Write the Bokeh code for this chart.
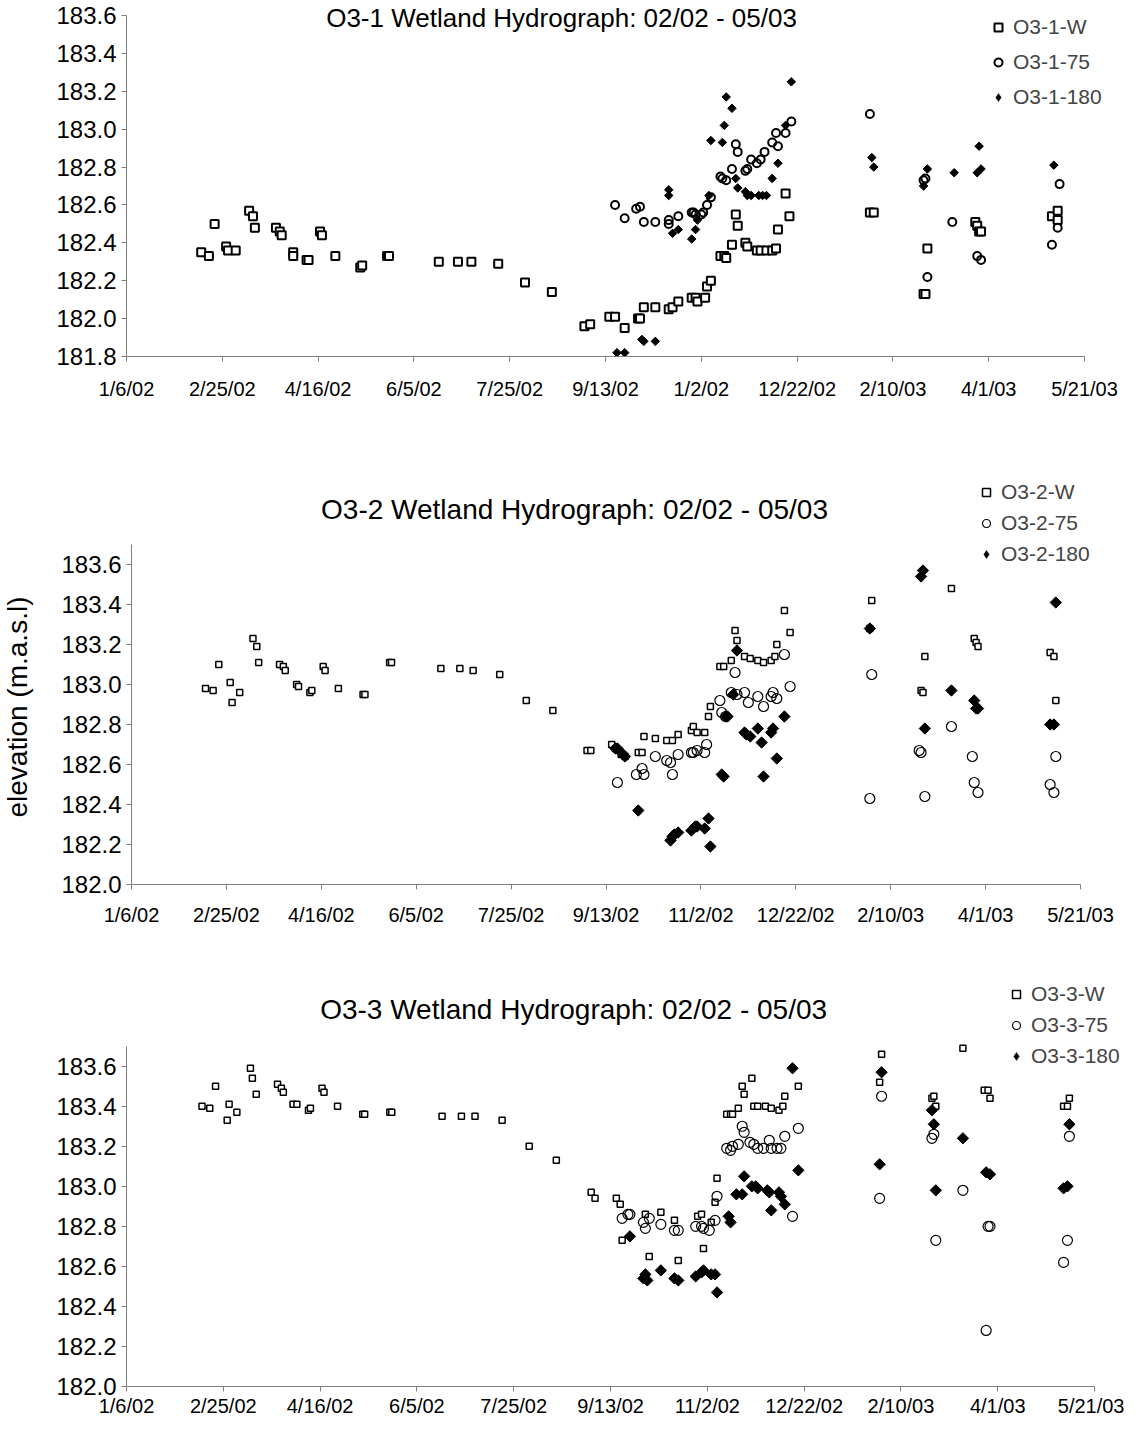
import math
from bokeh.plotting import figure
from bokeh.layouts import column, row
from bokeh.models import (Range1d, FixedTicker, PrintfTickFormatter, Legend,
                          LegendItem, Label)
from bokeh.embed import file_html
from bokeh.resources import INLINE

FONT = "Liberation Sans"

# x values are days since 1/6/02
x_ticks = [0, 50, 100, 150, 200, 250, 300, 350, 400, 450, 500]
x_tick_labels = ["1/6/02", "2/25/02", "4/16/02", "6/5/02", "7/25/02", "9/13/02",
                 "11/2/02", "12/22/02", "2/10/03", "4/1/03", "5/21/03"]
p1_x_tick_labels = ["1/6/02", "2/25/02", "4/16/02", "6/5/02", "7/25/02", "9/13/02",
                    "1/2/02", "12/22/02", "2/10/03", "4/1/03", "5/21/03"]
p1_y_ticks = [181.8, 182.0, 182.2, 182.4, 182.6, 182.8, 183.0, 183.2, 183.4, 183.6]
p23_y_ticks = [182.0, 182.2, 182.4, 182.6, 182.8, 183.0, 183.2, 183.4, 183.6]

titles = ["O3-1 Wetland Hydrograph: 02/02 - 05/03",
          "O3-2 Wetland Hydrograph: 02/02 - 05/03",
          "O3-3 Wetland Hydrograph: 02/02 - 05/03"]
series_names = [["O3-1-W", "O3-1-75", "O3-1-180"],
                ["O3-2-W", "O3-2-75", "O3-2-180"],
                ["O3-3-W", "O3-3-75", "O3-3-180"]]
y_axis_title = "elevation (m.a.s.l)"

# ---------------- O3-1 ----------------
p1_w_day = [39, 43, 46, 52, 53, 57, 64, 66, 67, 78, 80, 81, 87, 87, 94, 95, 101, 102, 109,
            122, 123, 136, 137, 163, 173, 180, 194, 208, 222, 239, 242, 252, 255, 260,
            267, 268, 270, 276, 283, 285, 288, 295, 297, 298, 302, 303, 305, 310, 312,
            313, 316, 318, 319, 323, 324, 329, 331, 334, 337, 339, 340, 344, 346, 388,
            390, 416, 417, 418, 443, 444, 445, 446, 483, 486, 486]
p1_w_val = [182.35, 182.33, 182.50, 182.38, 182.36, 182.36, 182.57, 182.54, 182.48, 182.48,
            182.46, 182.44, 182.35, 182.33, 182.31, 182.31, 182.46, 182.44, 182.33, 182.27,
            182.28, 182.33, 182.33, 182.30, 182.30, 182.30, 182.29, 182.19, 182.14, 181.96,
            181.97, 182.01, 182.01, 181.95, 182.00, 182.00, 182.06, 182.06, 182.05, 182.06,
            182.09, 182.11, 182.11, 182.09, 182.11, 182.17, 182.20, 182.33, 182.33, 182.32,
            182.39, 182.55, 182.49, 182.40, 182.38, 182.36, 182.36, 182.36, 182.36, 182.37,
            182.47, 182.66, 182.54, 182.56, 182.56, 182.13, 182.13, 182.37, 182.51, 182.49,
            182.46, 182.46, 182.54, 182.57, 182.52]
p1_75_day = [255, 260, 266, 268, 270, 276, 283, 283, 288, 295, 296, 297, 300, 301, 303, 305,
             310, 311, 313, 316, 318, 319, 323, 324, 326, 329, 331, 333, 337, 339, 340, 344,
             347, 388, 416, 417, 418, 431, 444, 446, 483, 486, 487]
p1_75_val = [182.60, 182.53, 182.58, 182.59, 182.51, 182.51, 182.52, 182.50, 182.54, 182.56,
             182.56, 182.55, 182.55, 182.56, 182.60, 182.64, 182.75, 182.74, 182.73, 182.79,
             182.92, 182.88, 182.78, 182.79, 182.84, 182.82, 182.84, 182.88, 182.93, 182.98,
             182.91, 182.98, 183.04, 183.08, 182.73, 182.74, 182.22, 182.51, 182.33, 182.31,
             182.39, 182.48, 182.71]
p1_180_day = [256, 260, 269, 270, 276, 283, 283, 285, 288, 295, 297, 298, 304, 305, 311, 312,
              313, 316, 318, 319, 323, 324, 326, 330, 332, 334, 337, 340, 344, 347, 389, 390,
              416, 418, 432, 444, 445, 446, 484]
p1_180_val = [181.82, 181.82, 181.89, 181.88, 181.88, 182.65, 182.68, 182.45, 182.47, 182.42,
              182.47, 182.52, 182.65, 182.94, 182.93, 183.02, 183.17, 183.11, 182.74, 182.69,
              182.67, 182.65, 182.65, 182.65, 182.65, 182.65, 182.74, 182.82, 183.02, 183.25,
              182.85, 182.80, 182.70, 182.79, 182.77, 182.77, 182.91, 182.79, 182.81]

# ---------------- O3-2 ----------------
p2_w_day = [39, 43, 46, 52, 53, 57, 64, 66, 67, 78, 80, 81, 87, 88, 94, 95, 101, 102, 109,
            122, 123, 136, 137, 163, 173, 180, 194, 208, 222, 240, 242, 253, 255, 258, 260,
            267, 269, 270, 276, 282, 285, 288, 295, 296, 298, 302, 304, 305, 310, 312, 316,
            318, 319, 323, 326, 330, 333, 337, 339, 340, 344, 347, 389, 390, 416, 417, 418,
            432, 444, 445, 446, 484, 486, 487]
p2_w_val = [182.98, 182.97, 183.10, 183.01, 182.91, 182.96, 183.23, 183.19, 183.11, 183.10,
            183.09, 183.07, 183.00, 182.99, 182.96, 182.97, 183.09, 183.07, 182.98, 182.95,
            182.95, 183.11, 183.11, 183.08, 183.08, 183.07, 183.05, 182.92, 182.87, 182.67,
            182.67, 182.70, 182.68, 182.65, 182.64, 182.66, 182.66, 182.74, 182.73, 182.72,
            182.72, 182.75, 182.77, 182.79, 182.76, 182.76, 182.84, 182.89, 183.09, 183.09,
            183.12, 183.27, 183.22, 183.14, 183.13, 183.12, 183.11, 183.12, 183.14, 183.20,
            183.37, 183.26, 183.28, 183.42, 182.97, 182.96, 183.14, 183.48, 183.23, 183.21,
            183.19, 183.16, 183.14, 182.92]
p2_75_day = [256, 266, 269, 270, 276, 282, 284, 285, 288, 295, 296, 298, 302, 303, 310, 311,
             313, 316, 318, 319, 323, 325, 330, 333, 337, 338, 340, 344, 347, 389, 390, 415,
             416, 418, 432, 443, 444, 446, 484, 486, 487]
p2_75_val = [182.51, 182.55, 182.58, 182.55, 182.64, 182.62, 182.61, 182.55, 182.65, 182.66,
             182.66, 182.67, 182.66, 182.70, 182.92, 182.86, 182.84, 182.96, 183.06, 182.95,
             182.96, 182.91, 182.94, 182.89, 182.94, 182.96, 182.93, 183.15, 182.99, 182.43,
             183.05, 182.67, 182.66, 182.44, 182.79, 182.64, 182.51, 182.46, 182.50, 182.46,
             182.64]
p2_180_day = [255, 256, 258, 260, 267, 284, 285, 286, 288, 295, 297, 298, 302, 304, 305, 311,
              312, 313, 314, 317, 319, 323, 324, 326, 330, 332, 333, 337, 338, 340, 344, 389,
              416, 417, 418, 432, 444, 445, 446, 484, 486, 487]
p2_180_val = [182.68, 182.68, 182.66, 182.64, 182.37, 182.22, 182.24, 182.25, 182.26, 182.27,
              182.29, 182.29, 182.28, 182.33, 182.19, 182.55, 182.54, 182.84, 182.84, 182.95,
              183.17, 182.76, 182.75, 182.74, 182.78, 182.71, 182.54, 182.76, 182.78, 182.63,
              182.84, 183.28, 183.54, 183.57, 182.78, 182.97, 182.92, 182.88, 182.88, 182.80,
              182.80, 183.41]

# ---------------- O3-3 ----------------
p3_w_day = [39, 43, 46, 52, 53, 57, 64, 65, 67, 78, 80, 81, 86, 88, 94, 95, 101, 102, 109,
            122, 123, 136, 137, 163, 173, 180, 194, 208, 222, 240, 242, 253, 255, 256, 268,
            270, 276, 283, 285, 295, 297, 298, 302, 304, 305, 310, 312, 313, 316, 318, 319,
            323, 324, 326, 330, 333, 337, 339, 340, 347, 389, 390, 416, 417, 418, 432, 443,
            445, 446, 484, 486, 487]
p3_w_val = [183.40, 183.39, 183.50, 183.33, 183.41, 183.37, 183.59, 183.54, 183.46, 183.51,
            183.49, 183.47, 183.41, 183.41, 183.38, 183.39, 183.49, 183.47, 183.40, 183.36,
            183.36, 183.37, 183.37, 183.35, 183.35, 183.35, 183.33, 183.20, 183.13, 182.97,
            182.94, 182.94, 182.91, 182.73, 182.86, 182.65, 182.87, 182.83, 182.63, 182.85,
            182.86, 182.69, 182.82, 182.92, 183.04, 183.36, 183.36, 183.36, 183.39, 183.50,
            183.46, 183.54, 183.40, 183.40, 183.40, 183.39, 183.38, 183.40, 183.45, 183.50,
            183.52, 183.66, 183.44, 183.45, 183.40, 183.69, 183.48, 183.48, 183.44, 183.40,
            183.40, 183.44]
p3_75_day = [256, 259, 260, 267, 268, 270, 276, 283, 285, 294, 297, 298, 301, 304, 305, 310,
             312, 313, 316, 318, 319, 322, 324, 326, 329, 332, 333, 336, 338, 340, 344, 347,
             389, 390, 416, 417, 418, 432, 444, 445, 446, 484, 486, 487]
p3_75_val = [182.84, 182.86, 182.86, 182.82, 182.79, 182.84, 182.81, 182.78, 182.78, 182.80,
             182.80, 182.79, 182.78, 182.83, 182.95, 183.19, 183.18, 183.20, 183.21, 183.30,
             183.27, 183.22, 183.21, 183.19, 183.19, 183.23, 183.19, 183.19, 183.19, 183.25,
             182.85, 183.29, 182.94, 183.45, 183.24, 183.26, 182.73, 182.98, 182.28, 182.80,
             182.80, 182.62, 182.73, 183.25]
p3_180_day = [260, 267, 268, 269, 276, 283, 285, 294, 297, 298, 302, 304, 305, 311, 312, 315,
              318, 319, 323, 325, 326, 331, 332, 333, 337, 338, 340, 344, 347, 389, 390, 416,
              417, 418, 432, 444, 446, 484, 486, 487]
p3_180_val = [182.75, 182.54, 182.56, 182.53, 182.58, 182.54, 182.53, 182.55, 182.57, 182.58,
              182.56, 182.56, 182.47, 182.85, 182.82, 182.96, 182.96, 183.05, 183.00, 183.00,
              182.99, 182.98, 182.97, 182.88, 182.97, 182.95, 182.91, 183.59, 183.08, 183.11,
              183.57, 183.38, 183.31, 182.98, 183.24, 183.07, 183.06, 182.99, 183.00, 183.31]

PAGE_OFF = 8          # page margin
PAGE_RIGHT = 1132     # right edge of the usable page area


def make_panel(title, names, data, xlabels, yticks, y_lo, y_axis_top, geo, marks):
    # geo: page-pixel geometry of this panel
    (fig_left, fig_top, fig_bot, x0_px, x500_px, axis_px, ytop_px,
     title_px, title_size, leg_px, leg_spacing, x_standoff) = geo
    frame_right = PAGE_RIGHT
    xscale = (x500_px - x0_px) / 500.0
    yscale = (axis_px - ytop_px) / (yticks[-1] - y_lo)
    x_max = (frame_right - x0_px) / xscale
    y_max = y_lo + (axis_px - fig_top) / yscale

    p = figure(width=PAGE_RIGHT - fig_left, height=fig_bot - fig_top,
               output_backend="svg", toolbar_location=None, title=None,
               x_range=Range1d(0, x_max), y_range=Range1d(y_lo, y_max),
               min_border_top=0, min_border_bottom=fig_bot - axis_px,
               min_border_left=x0_px - fig_left, min_border_right=0)
    p.outline_line_color = None
    p.xgrid.grid_line_color = None
    p.ygrid.grid_line_color = None
    p.background_fill_color = "white"
    p.border_fill_color = "white"

    p.xaxis.ticker = FixedTicker(ticks=x_ticks)
    p.xaxis.major_label_overrides = {t: l for t, l in zip(x_ticks, xlabels)}
    p.xaxis.bounds = (x_ticks[0], x_ticks[-1])
    p.yaxis.ticker = FixedTicker(ticks=yticks)
    p.yaxis.formatter = PrintfTickFormatter(format="%.1f")
    p.yaxis.bounds = (y_lo, y_axis_top)
    for ax in (p.xaxis, p.yaxis):
        ax.axis_line_color = "#7f7f7f"
        ax.axis_line_width = 1
        ax.major_tick_line_color = "#7f7f7f"
        ax.minor_tick_line_color = None
        ax.major_tick_in = 0
        ax.major_tick_out = 5
        ax.major_label_text_font = FONT
        ax.major_label_text_color = "black"
    p.xaxis.major_label_text_font_size = "20px"
    p.xaxis.major_label_standoff = x_standoff
    p.yaxis.major_label_text_font_size = "24px"
    p.yaxis.major_label_standoff = 5

    (w_day, w_val), (m_day, m_val), (d_day, d_val) = data
    sq_size, sq_lw, ci_size, ci_lw, di_size, leg_di_size = marks
    r_w = p.scatter(w_day, w_val, marker="square", size=sq_size, fill_color="white",
                    line_color="black", line_width=sq_lw)
    r_m = p.scatter(m_day, m_val, marker="circle", size=ci_size, fill_color=None,
                    line_color="black", line_width=ci_lw)
    p.scatter(d_day, d_val, marker="square", angle=math.pi / 4, size=di_size,
              fill_color="black", line_color="black", line_width=1)
    # legend glyph for the diamond series (legend glyphs are drawn unrotated); it
    # marks the series' first point and sits entirely inside that point's own marker
    r_d_leg = p.scatter(d_day[:1], d_val[:1], marker="diamond", size=leg_di_size,
                        fill_color="black", line_color="black", line_width=0.5)

    leg_left, leg_top = leg_px
    item_h = 22
    leg_h = 3 * item_h + 2 * leg_spacing
    leg = Legend(items=[LegendItem(label=names[0], renderers=[r_w]),
                        LegendItem(label=names[1], renderers=[r_m]),
                        LegendItem(label=names[2], renderers=[r_d_leg])],
                 location=(leg_left - x0_px, axis_px - (leg_top + leg_h)),
                 orientation="vertical",
                 background_fill_alpha=0, border_line_alpha=0,
                 label_text_font=FONT, label_text_font_size="21px",
                 glyph_width=20, glyph_height=item_h, label_height=item_h,
                 spacing=leg_spacing, padding=0, margin=0, label_standoff=5)
    p.add_layout(leg)

    tx = (title_px[0] - x0_px) / xscale
    ty = y_lo + (axis_px - title_px[1]) / yscale
    p.add_layout(Label(x=tx, y=ty, text=title, text_align="center",
                       text_baseline="middle", text_font=FONT,
                       text_font_size=title_size, text_color="black"))
    return p


def make_ylabel_fig(text, fig_top, fig_bot, width, start_px):
    # start_px: page position of the start (bottom end) of the vertical text
    h = fig_bot - fig_top
    f = figure(width=width, height=h, output_backend="svg", toolbar_location=None,
               title=None, x_axis_location=None, y_axis_location=None,
               x_range=Range1d(0, width), y_range=Range1d(0, h),
               min_border_top=0, min_border_bottom=0, min_border_left=0,
               min_border_right=0)
    f.outline_line_color = None
    f.xgrid.grid_line_color = None
    f.ygrid.grid_line_color = None
    f.add_layout(Label(x=start_px[0] - PAGE_OFF, y=fig_bot - start_px[1], text=text,
                       angle=math.pi / 2, text_align="left", text_baseline="middle",
                       text_font=FONT, text_font_size="28px", text_color="black"))
    return f


p1 = make_panel(titles[0], series_names[0],
                [(p1_w_day, p1_w_val), (p1_75_day, p1_75_val), (p1_180_day, p1_180_val)],
                p1_x_tick_labels, p1_y_ticks, 181.8, 183.6,
                (8, 8, 460, 134, 1092, 364, 23, (569, 25), "26px", (996, 29), 11, 16),
                (8, 2, 8, 2, 6, 8))

YLAB_W = 50
p2 = make_panel(titles[1], series_names[1],
                [(p2_w_day, p2_w_val), (p2_75_day, p2_75_val), (p2_180_day, p2_180_val)],
                x_tick_labels, p23_y_ticks, 182.0, 183.7,
                (8 + YLAB_W, 460, 950, 139, 1088, 892, 572, (582, 517), "28px", (984, 494), 7, 14),
                (6, 1.5, 10, 1.2, 8, 11))
ylab = make_ylabel_fig(y_axis_title, 460, 950, YLAB_W, (25, 874))

p3 = make_panel(titles[2], series_names[2],
                [(p3_w_day, p3_w_val), (p3_75_day, p3_75_val), (p3_180_day, p3_180_val)],
                x_tick_labels, p23_y_ticks, 182.0, 183.7,
                (8, 950, 1427, 132, 1102, 1395, 1074, (580, 1017), "28px", (1012, 997), 7, 3),
                (6, 1.5, 10, 1.2, 8, 11))

layout = column(p1, row(ylab, p2, spacing=0), p3, spacing=0)
open("out.html", "w").write(file_html(layout, INLINE))
